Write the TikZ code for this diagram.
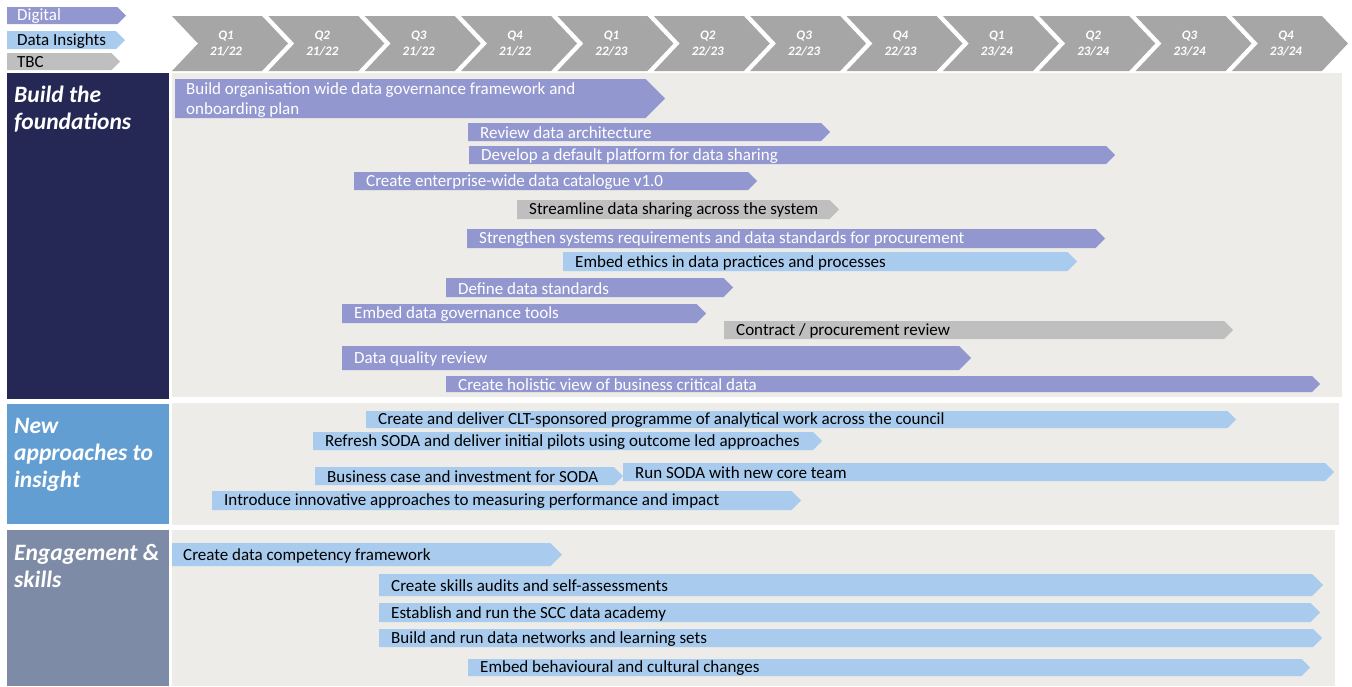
\documentclass[tikz,border=0pt]{standalone}
\usepackage{fontspec}
\setmainfont{Carlito}
\usepackage{xcolor}
\usepackage{tikz}
\usetikzlibrary{calc}
\definecolor{digitalpurple}{RGB}{146,151,208}
\definecolor{insightblue}{RGB}{169,204,238}
\definecolor{tbcgrey}{RGB}{191,191,191}
\definecolor{headgrey}{RGB}{166,166,166}
\definecolor{panelgrey}{RGB}{237,236,232}
\definecolor{foundnavy}{RGB}{37,39,84}
\definecolor{approachblue}{RGB}{99,158,210}
\definecolor{skillslate}{RGB}{125,139,166}

\begin{document}
\begin{tikzpicture}[
  x=1pt,y=-1pt,
  bar/.style={to path={let \p1=(\tikztostart),\p2=(\tikztotarget),\n1={(\y1-\y2)/2} in
    -- (\x2-\n1,\y1) -- (\x2,\y1-\n1) -- (\x2-\n1,\y2) -- (\x1,\y2) -- cycle}},
  digital/.style={fill=digitalpurple},
  insight/.style={fill=insightblue},
  tbc/.style={fill=tbcgrey},
  btext/.style={anchor=west,inner sep=0pt,align=left,yshift=-1pt,
    font=\fontsize{17}{20}\selectfont},
  sectext/.style={anchor=north west,inner sep=0pt,align=left,text=white,
    font=\fontsize{23.5}{27}\selectfont\bfseries\itshape},
  qtext/.style={text=white,align=center,inner sep=0pt,
    font=\fontsize{13}{16}\selectfont\bfseries\itshape}
]
\useasboundingbox (0,0) rectangle (1352,686);

% legend
\fill[digital] (7,7) to[bar] (126,24);
\node[btext,text=white] (legdigital) at (17,15.5) {Digital};
\fill[insight] (7,31) to[bar] (125,49);
\node[btext] (leginsight) at (17,40) {Data Insights};
\fill[tbc] (7,53) to[bar] (120,70);
\node[btext] (legtbc) at (17,61.5) {TBC};

% quarters
\foreach \i/\q/\a/\b in {0/Q1/21/22,1/Q2/21/22,2/Q3/21/22,3/Q4/21/22,
  4/Q1/22/23,5/Q2/22/23,6/Q3/22/23,7/Q4/22/23,
  8/Q1/23/24,9/Q2/23/24,10/Q3/23/24,11/Q4/23/24}{
  \fill[headgrey] (172+96.36*\i,16) -- ++(90,0) -- ++(26,27.5) -- ++(-26,27.5)
    -- ++(-90,0) -- ++(26,-27.5) -- cycle;
  \node[qtext] (qtr\i) at (226+96.36*\i,43.5) {\q\\\a/\b};
}

% sections
\fill[panelgrey] (172,73) rectangle (1342,397);
\fill[panelgrey] (172,403) rectangle (1339,525);
\fill[panelgrey] (172,530) rectangle (1335,686);
\fill[foundnavy] (7,73) rectangle (169,399);
\fill[approachblue] (7,404) rectangle (169,524);
\fill[skillslate] (7,530) rectangle (169,686);
\node[sectext] (foundations) at (14,86) {Build the\\foundations};
\node[sectext] (approaches) at (14,418) {New\\approaches to\\insight};
\node[sectext] (skills) at (14,544) {Engagement \&\\skills};

% build the foundations
\fill[digital] (175,79) to[bar] (665,118);
\node[btext,text=white] (govframe) at (186,99) {Build organisation wide data governance framework and\\onboarding plan};
\fill[digital] (468,123) to[bar] (830,141);
\node[btext,text=white] (archreview) at (480,132) {Review data architecture};
\fill[digital] (469,146) to[bar] (1115,164);
\node[btext,text=white] (platform) at (481,155) {Develop a default platform for data sharing};
\fill[digital] (354,172) to[bar] (757,190);
\node[btext,text=white] (catalogue) at (366,181) {Create enterprise-wide data catalogue v1.0};
\fill[tbc] (517,200) to[bar] (839,219);
\node[btext] (streamline) at (529,209.5) {Streamline data sharing across the system};
\fill[digital] (467,229) to[bar] (1105,248);
\node[btext,text=white] (sysreq) at (479,238.5) {Strengthen systems requirements and data standards for procurement};
\fill[insight] (563,252) to[bar] (1077,271);
\node[btext] (ethics) at (575,261.5) {Embed ethics in data practices and processes};
\fill[digital] (446,278) to[bar] (733,297);
\node[btext,text=white] (datastd) at (458,287.5) {Define data standards};
\fill[digital] (342,304) to[bar] (706,323);
\node[btext,text=white] (govtools) at (354,313.5) {Embed data governance tools};
\fill[tbc] (724,321) to[bar] (1233,339);
\node[btext] (contract) at (736,330) {Contract / procurement review};
\fill[digital] (342,346) to[bar] (971,370);
\node[btext,text=white] (quality) at (354,358) {Data quality review};
\fill[digital] (446,376) to[bar] (1320,392);
\node[btext,text=white] (holistic) at (458,384) {Create holistic view of business critical data};

% new approaches to insight
\fill[insight] (366,411) to[bar] (1236,428);
\node[btext] (cltprog) at (378,419.5) {Create and deliver CLT-sponsored programme of analytical work across the council};
\fill[insight] (313,432) to[bar] (822,450);
\node[btext] (refresh) at (325,441) {Refresh SODA and deliver initial pilots using outcome led approaches};
\fill[insight] (315,467) to[bar] (623,485);
\node[btext] (bizcase) at (327,476) {Business case and investment for SODA};
\fill[insight] (623,463) to[bar] (1334,481);
\node[btext] (runsoda) at (635,472) {Run SODA with new core team};
\fill[insight] (212,491) to[bar] (801,510);
\node[btext] (innovate) at (224,500.5) {Introduce innovative approaches to measuring performance and impact};

% engagement and skills
\fill[insight] (172,543) to[bar] (562,566);
\node[btext] (competency) at (183,554.5) {Create data competency framework};
\fill[insight] (379,574) to[bar] (1323,596);
\node[btext] (audits) at (391,585) {Create skills audits and self-assessments};
\fill[insight] (379,603) to[bar] (1320,622);
\node[btext] (academy) at (391,612.5) {Establish and run the SCC data academy};
\fill[insight] (379,629) to[bar] (1322,647);
\node[btext] (networks) at (391,638) {Build and run data networks and learning sets};
\fill[insight] (468,659) to[bar] (1310,676);
\node[btext] (behaviour) at (480,667.5) {Embed behavioural and cultural changes};
\end{tikzpicture}
\end{document}
